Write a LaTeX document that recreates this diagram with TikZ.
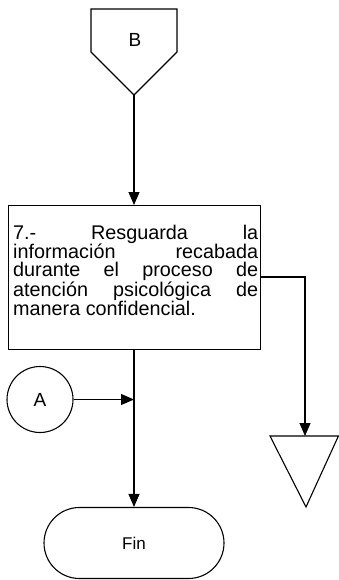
\documentclass[tikz,border=0pt]{standalone}
\usepackage{fontspec}
\setmainfont{Liberation Sans}
\usetikzlibrary{arrows.meta}
\begin{document}
\begin{tikzpicture}[x=1pt,y=-1pt,
  lw/.style={line width=1.1pt},
  flow/.style={lw,-{Triangle[length=13pt,width=11pt]}},
  bodytext/.style={font=\fontsize{19.8}{17.8}\selectfont, inner sep=0pt}]
\useasboundingbox (0,0) rectangle (339,580);
% off-page connector B
\coordinate (Btl) at (91,9);
\coordinate (Btr) at (177,9);
\coordinate (Bbr) at (177,52);
\coordinate (Btip) at (134,95);
\coordinate (Bbl) at (91,52);
\draw[lw,line join=miter] (Btl) -- (Btr) -- (Bbr) -- (Btip) -- (Bbl) -- cycle;
\node[font=\fontsize{19}{20}\selectfont, inner sep=0pt] (B) at (135,40) {B};
% process box
\node[lw, draw, rectangle, anchor=north west, minimum width=252pt, minimum height=144pt, inner sep=0pt] (box) at (8,205) {};
\node[bodytext, anchor=base west] (boxtext) at (13,239) {\parbox[t]{245pt}{%
\makebox[245pt][s]{7.- Resguarda la}\\
\makebox[245pt][s]{información recabada}\\
\makebox[245pt][s]{durante el proceso de}\\
\makebox[245pt][s]{atención psicológica de}\\
manera confidencial.}};
% connector A
\node[lw, draw, circle, minimum size=66pt, inner sep=0pt, font=\fontsize{19}{20}\selectfont] (A) at (40,399.5) {A};
% end terminal
\node[lw, draw, rectangle, rounded corners=35.5pt, minimum width=180pt, minimum height=71pt, inner sep=0pt, font=\fontsize{17}{18}\selectfont] (fin) at (134,543) {Fin};
% off-page triangle
\coordinate (Tl) at (270,436);
\coordinate (Tr) at (338.4,436);
\coordinate (Ttip) at (306,507);
\coordinate (Ttop) at (305,436);
\draw[lw,line join=miter] (Tl) -- (Tr) -- (Ttip) -- cycle;
% connectors
\draw[flow] (Btip) -- (box.north -| Btip);
\draw[flow] (box.south -| Btip) -- (fin.north -| Btip);
\coordinate (join) at (134,399.5);
\draw[flow] (A.east) -- (join);
\coordinate (boxr) at (260,277);
\draw[flow] (boxr) -| (Ttop);
\end{tikzpicture}
\end{document}
